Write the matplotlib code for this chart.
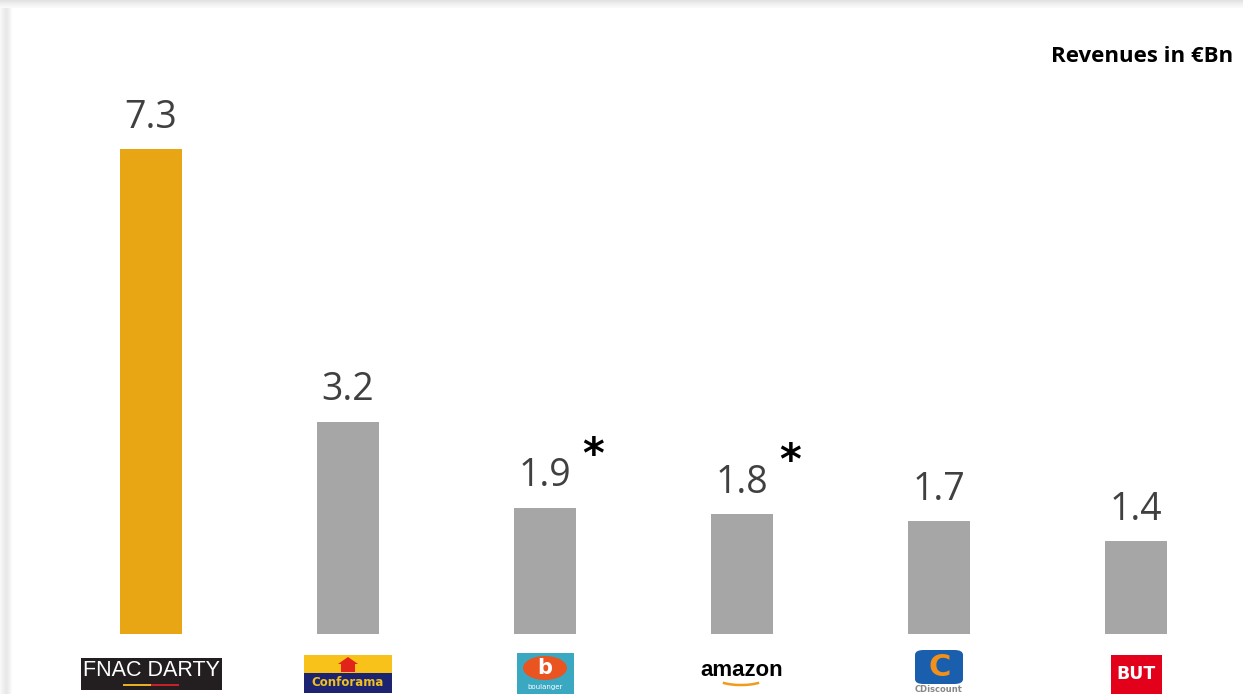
import matplotlib
matplotlib.use("Agg")
import matplotlib.pyplot as plt
from matplotlib.patches import Rectangle, FancyBboxPatch, Ellipse, Arc

companies = ["FNAC DARTY", "Conforama", "Boulanger", "Amazon", "CDiscount", "BUT"]
revenues = [7.3, 3.2, 1.9, 1.8, 1.7, 1.4]
value_labels = ["7.3", "3.2", "1.9", "1.8", "1.7", "1.4"]
asterisk = [False, False, True, True, False, False]
bar_colors = ["#E8A615", "#A6A6A6", "#A6A6A6", "#A6A6A6", "#A6A6A6", "#A6A6A6"]

W, H = 1243, 694
fig = plt.figure(figsize=(W / 100, H / 100), dpi=100)
fig.patch.set_facecolor("white")

def fx(px):
    return px / W

def fy(py):  # py measured from top
    return 1 - py / H

# panel shadow (top and left)
for i, c in enumerate(["#e2e2e2", "#e6e6e6", "#eaeaea", "#eeeeee", "#f1f1f1", "#f4f4f4", "#f7f7f7", "#fafafa"]):
    fig.patches.append(Rectangle((0, fy(i + 1)), 1, 1 / H, transform=fig.transFigure,
                                 facecolor=c, edgecolor="none", zorder=0))
for i, c in enumerate(["#f8f8f8", "#f5f5f5", "#f2f2f2", "#efefef", "#ececec", "#eaeaea",
                       "#e8e8e8", "#eaeaea", "#eeeeee", "#f2f2f2", "#f6f6f6", "#fbfbfb"]):
    fig.patches.append(Rectangle((fx(i), 0), 1 / W, fy(8), transform=fig.transFigure,
                                 facecolor=c, edgecolor="none", zorder=0))

ax = fig.add_axes([0, 60 / H, 1, 634 / H])
ax.set_facecolor("none")
x = list(range(len(companies)))
ax.bar(x, revenues, width=0.315, color=bar_colors, zorder=2)
ax.set_xlim(-151 / 197, (W - 151) / 197)
ax.set_ylim(0, 634 / 66.4)
ax.axis("off")

for i, (v, lab, star) in enumerate(zip(revenues, value_labels, asterisk)):
    ax.annotate(lab, (i, v), xytext=(0, 36), textcoords="offset pixels",
                ha="center", va="center_baseline", fontsize=27, color="#404040",
                family="Open Sans")
    if star:
        ax.annotate("*", (i, v), xytext=(48, 52), textcoords="offset pixels",
                    ha="center", va="center", fontsize=30, fontweight="bold",
                    color="black", family="DejaVu Sans")

fig.text(fx(1233), fy(56), "Revenues in €Bn", ha="right", va="center",
         fontsize=16, fontweight="bold", color="black", family="Open Sans")

# logos drawn as styled text boxes
fig.canvas.draw()
centers = [ax.transData.transform((i, 0))[0] for i in x]
T = fig.transFigure

def rect(cx, w, top, h, color, z=3):
    fig.patches.append(Rectangle((fx(cx - w / 2), fy(top + h)), fx(w), h / H,
                                 transform=T, facecolor=color, edgecolor="none", zorder=z))

# FNAC DARTY
c = centers[0]
rect(c, 141, 658, 32, "#231f20")
fig.text(fx(c), fy(670), "FNAC DARTY", ha="center", va="center", color="white",
         fontsize=15.5, family="Liberation Sans")
rect(c - 14, 28, 684, 1.5, "#e8b020", z=4)
rect(c + 14, 28, 684, 1.5, "#c8202a", z=4)

# Conforama
c = centers[1]
rect(c, 88, 655, 18, "#f8c21b")
rect(c, 88, 673, 20, "#1c2472")
fig.patches.append(plt.Polygon([[fx(c - 10), fy(664)], [fx(c), fy(657)], [fx(c + 10), fy(664)]],
                               closed=True, transform=T, facecolor="#e2231a", zorder=4))
rect(c, 14, 664, 8, "#e2231a", z=4)
fig.text(fx(c), fy(683), "Conforama", ha="center", va="center", color="#f0c020",
         fontsize=8.5, fontweight="bold", family="DejaVu Sans")

# Boulanger
c = centers[2]
rect(c, 57, 653, 41, "#3ba8c2")
fig.patches.append(Ellipse((fx(c), fy(668)), fx(44), 24 / H, transform=T,
                           facecolor="#e95420", edgecolor="none", zorder=4))
fig.text(fx(c), fy(668), "b", ha="center", va="center", color="white",
         fontsize=15, fontweight="bold", family="DejaVu Sans", zorder=5)
fig.text(fx(c), fy(687), "boulanger", ha="center", va="center", color="white",
         fontsize=5, family="DejaVu Sans")

# Amazon
c = centers[3]
fig.text(fx(c), fy(671), "amazon", ha="center", va="center", color="black",
         fontsize=16, fontweight="bold", family="Liberation Sans")
fig.patches.append(Arc((fx(c - 1), fy(679)), fx(46), 12 / H, theta1=200, theta2=340,
                       transform=T, color="#f29a1a", lw=1.8, zorder=4))

# CDiscount
c = centers[4]
fig.patches.append(FancyBboxPatch((fx(c - 24), fy(684)), fx(48), 34 / H,
                                  boxstyle="round,pad=0,rounding_size=0.007",
                                  transform=T, facecolor="#1a5fae", edgecolor="none", zorder=3))
fig.text(fx(c + 1), fy(667), "C", ha="center", va="center", color="#f39019",
         fontsize=22, fontweight="bold", family="DejaVu Sans", zorder=5)
fig.text(fx(c), fy(690), "CDiscount", ha="center", va="center", color="#888888",
         fontsize=6, fontweight="bold", family="DejaVu Sans")

# BUT
c = centers[5]
rect(c, 51, 655, 39, "#e2001a")
fig.text(fx(c), fy(674), "BUT", ha="center", va="center", color="white",
         fontsize=12.5, fontweight="bold", family="DejaVu Sans")

fig.savefig("out.png", dpi=100)
